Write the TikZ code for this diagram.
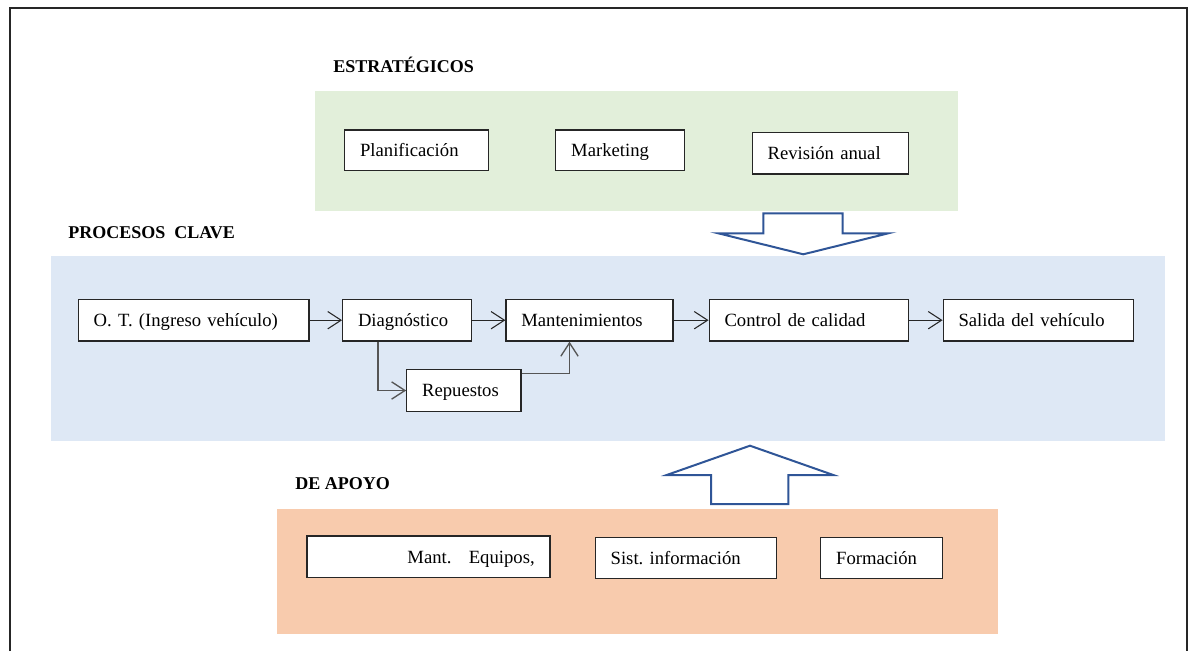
\documentclass[tikz,border=0pt]{standalone}
\usepackage{fontspec}
\setmainfont{Liberation Serif}
\usetikzlibrary{arrows.meta}
\frenchspacing

\definecolor{strategic}{HTML}{E2EFDA}
\definecolor{keyproc}{HTML}{DEE8F5}
\definecolor{support}{HTML}{F8CBAD}
\definecolor{blockblue}{HTML}{2F5597}
\definecolor{inkline}{HTML}{262626}
\definecolor{elbowgray}{HTML}{555555}

\tikzset{
  box/.style={draw=inkline, fill=white, line width=0.9pt, rectangle,
    inner xsep=11.5pt, inner ysep=0pt, align=left,
    text height=9.6pt, text depth=0pt,
    font=\fontsize{14}{16}\selectfont},
  heading/.style={anchor=west, inner sep=0pt,
    font=\fontsize{13.5}{15}\selectfont\bfseries},
  flow/.style={draw=inkline, line width=0.8pt,
    -{Straight Barb[length=10pt,width=13pt,line width=0.8pt]}},
  elbow/.style={draw=elbowgray, line width=1.1pt,
    -{Straight Barb[length=10pt,width=13pt,line width=1pt]}},
  blockarrow/.style={draw=blockblue, fill=white, line width=1.5pt, line join=miter},
}

\begin{document}
\begin{tikzpicture}[x=0.75pt, y=-0.75pt]
  \useasboundingbox (0,0) rectangle (1190,651);

  % outer frame (open at the bottom)
  \draw[line width=1.5pt, inkline] (9.8,651) -- (9.8,7.5) -- (1187,7.5) -- (1187,651);

  % coloured bands
  \fill[strategic] (315,90.7) rectangle (958,210.7);
  \fill[keyproc]   (51,256)   rectangle (1165,440.7);
  \fill[support]   (277,509.3) rectangle (997.8,634);

  % headings
  \node[heading] (hStrat) at (333,65)  {ESTRATÉGICOS};
  \node[heading] (hKey)   at (68,233)  {PROCESOS\ \ CLAVE};
  \node[heading] (hSupp)  at (295,484) {DE APOYO};

  % strategic processes
  \node[box, minimum width=107.9pt, minimum height=30.5pt, text width=84.9pt]
    (plan) at (416.7,150.4) {Planificación};
  \node[box, minimum width=96.2pt, minimum height=30.5pt, text width=73.2pt]
    (mkt) at (620,150.4) {Marketing};
  \node[box, minimum width=117.1pt, minimum height=31.3pt, text width=94.1pt]
    (rev) at (830.4,153.2) {Revisión anual};

  % key processes
  \node[box, minimum width=173pt, minimum height=31.3pt, text width=150pt]
    (ot) at (193.7,320.2) {O. T. (Ingreso vehículo)};
  \node[box, minimum width=96.8pt, minimum height=31.3pt, text width=73.8pt]
    (diag) at (407.2,320.2) {Diagnóstico};
  \node[box, minimum width=125.3pt, minimum height=31.3pt, text width=102.3pt]
    (mant) at (589.5,320.2) {Mantenimientos};
  \node[box, minimum width=149.6pt, minimum height=31.3pt, text width=126.6pt]
    (qc) at (808.9,320.2) {Control de calidad};
  \node[box, minimum width=143pt, minimum height=31.3pt, text width=120pt]
    (out) at (1038.5,320.2) {Salida del vehículo};
  \node[box, minimum width=85.7pt, minimum height=31.8pt, text width=62.7pt]
    (rep) at (463.9,390.5) {Repuestos};

  % support processes
  \node[box, align=right, minimum width=182.3pt, minimum height=31pt, text width=159.3pt]
    (equip) at (428.5,556.7) {Mant.\hspace{13pt}Equipos,};
  \node[box, minimum width=136pt, minimum height=30.8pt, text width=113pt]
    (info) at (686,558.2) {Sist. información};
  \node[box, minimum width=91.3pt, minimum height=30.8pt, text width=68.3pt]
    (train) at (881.7,558.2) {Formación};

  % flow between key processes
  \draw[flow] (ot) -- (diag);
  \draw[flow] (diag) -- (mant);
  \draw[flow] (mant) -- (qc);
  \draw[flow] (qc) -- (out);
  \draw[elbow] ([xshift=27pt]diag.south west) |- (rep.west);
  \draw[elbow] ([yshift=-3.5pt]rep.north east) -| ([xshift=-15pt]mant.south);

  % block arrows between the bands
  \draw[blockarrow] (763.3,213.3) -- (842.7,213.3) -- (842.7,233.3) -- (888.3,233.3)
    -- (803.3,254.3) -- (718.3,233.3) -- (763.3,233.3) -- cycle;
  \draw[blockarrow] (711,504) -- (788.3,504) -- (788.3,475) -- (833.3,475)
    -- (750,445.7) -- (666.7,475) -- (711,475) -- cycle;
\end{tikzpicture}
\end{document}
